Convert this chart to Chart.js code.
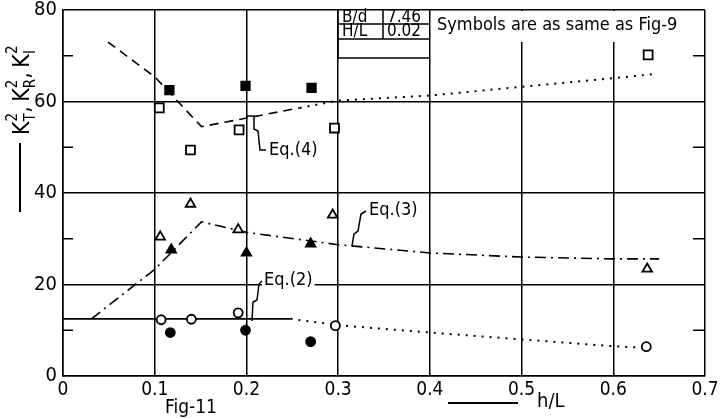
<!DOCTYPE html>
<html>
<head>
<meta charset="utf-8">
<script src="https://cdn.jsdelivr.net/npm/chart.js@4.4.1/dist/chart.umd.min.js"></script>
<style>
  html, body { margin: 0; padding: 0; background: #fff; }
  canvas { display: block; }
</style>
</head>
<body>
<canvas id="fig11" width="720" height="419"></canvas>
<script>
const xTicks = [0, 0.1, 0.2, 0.3, 0.4, 0.5, 0.6, 0.7];
const yLabelTicks = [0, 20, 40, 60, 80];
const yMinorTicks = [10, 30, 50, 70];

const openSquares = [[0.105, 58.6], [0.139, 49.4], [0.192, 53.8], [0.296, 54.2], [0.638, 70.2]];
const filledSquares = [[0.116, 62.5], [0.199, 63.4], [0.271, 63.0]];
const openTriangles = [[0.106, 30.4], [0.139, 37.6], [0.191, 32.0], [0.294, 35.2], [0.637, 23.4]];
const filledTriangles = [[0.118, 27.6], [0.200, 26.9], [0.270, 28.9]];
const openCircles = [[0.107, 12.3], [0.140, 12.4], [0.191, 13.8], [0.297, 11.0], [0.636, 6.4]];
const filledCircles = [[0.117, 9.5], [0.199, 10.0], [0.270, 7.5]];

// Eq.(4): dashed part then dotted part
const eq4Dashed = [[0.049, 73.0], [0.100, 65.4], [0.151, 54.5], [0.258, 58.6]];
const eq4Dotted = [[0.258, 58.6], [0.300, 60.2], [0.400, 61.3], [0.500, 63.2], [0.600, 65.1], [0.645, 66.0]];
// Eq.(3): dash-dot
const eq3Line = [[0.031, 12.5], [0.100, 23.3], [0.151, 33.7], [0.200, 31.4], [0.300, 28.7],
                 [0.400, 26.9], [0.500, 26.0], [0.600, 25.6], [0.650, 25.6]];
// Eq.(2): solid part then dotted part
const eq2Solid = [[0.000, 12.5], [0.248, 12.5]];
const eq2Dotted = [[0.248, 12.5], [0.300, 11.1], [0.400, 9.5], [0.500, 8.0], [0.600, 6.5], [0.630, 6.2]];

const FONT = '"DejaVu Sans Condensed", "Liberation Sans Narrow", "DejaVu Sans", sans-serif';

const pts = arr => arr.map(p => ({ x: p[0], y: p[1] }));

function markerSet(arr, style, filled, r) {
    return {
        data: pts(arr),
        showLine: false,
        pointStyle: style,
        pointRadius: r,
        pointBorderWidth: 1.8,
        pointBorderColor: '#000',
        pointBackgroundColor: filled ? '#000' : '#fff',
        order: 0
    };
}

function lineSet(arr, dash, width) {
    return {
        data: pts(arr),
        showLine: true,
        pointRadius: 0,
        borderColor: '#000',
        borderWidth: width,
        borderDash: dash,
        tension: 0,
        order: 1
    };
}

// texts, table, leaders, axis titles, minor ticks
const annotate = {
    id: 'annotate',
    beforeDatasetsDraw(chart) {
        const { ctx, chartArea: a, scales: { x, y } } = chart;
        ctx.save();
        ctx.strokeStyle = '#000';
        ctx.lineWidth = 1.5;

        // minor ticks, inward on both sides
        yMinorTicks.forEach(v => {
            const py = y.getPixelForValue(v);
            ctx.beginPath();
            ctx.moveTo(a.left, py); ctx.lineTo(a.left + 10, py);
            ctx.moveTo(a.right, py); ctx.lineTo(a.right - 12, py);
            ctx.stroke();
        });

        // knock out grid behind the note
        ctx.fillStyle = '#fff';
        ctx.fillRect(431, a.top + 1, a.right - 431 - 1, 31);

        // little parameter table
        ctx.beginPath();
        ctx.moveTo(338, a.top); ctx.lineTo(338, 58);
        ctx.lineTo(429, 58);
        ctx.moveTo(338, 24); ctx.lineTo(429, 24);
        ctx.moveTo(338, 39); ctx.lineTo(429, 39);
        ctx.moveTo(383, a.top); ctx.lineTo(383, 39);
        ctx.stroke();
        ctx.fillStyle = '#000';
        ctx.textBaseline = 'middle';
        ctx.textAlign = 'left';
        ctx.font = '17px ' + FONT;
        ctx.fillText('B/d', 342, 17.5, 38);
        ctx.fillText('H/L', 342, 32, 38);
        ctx.fillText('7.46', 387, 17.5, 38);
        ctx.fillText('0.02', 387, 32, 38);
        ctx.font = '18px ' + FONT;
        ctx.fillText('Symbols are as same as Fig-9', 437, 25, 246);

        // equation labels with white background
        const labels = [
            { t: 'Eq.(4)', px: 269, py: 150 },
            { t: 'Eq.(3)', px: 369, py: 210 },
            { t: 'Eq.(2)', px: 264, py: 280 }
        ];
        ctx.font = '18px ' + FONT;
        labels.forEach(l => {
            const w = ctx.measureText(l.t).width;
            ctx.fillStyle = '#fff';
            ctx.fillRect(l.px - 2, l.py - 10, w + 4, 20);
            ctx.fillStyle = '#000';
            ctx.fillText(l.t, l.px, l.py);
        });

        // leaders
        ctx.lineWidth = 1.5;
        const leader = list => {
            ctx.beginPath();
            ctx.moveTo(list[0][0], list[0][1]);
            list.slice(1).forEach(p => ctx.lineTo(p[0], p[1]));
            ctx.stroke();
        };
        leader([[246, 116], [254, 116], [254, 129], [258, 131], [260, 150], [266, 150]]);
        leader([[352, 246], [354, 234], [358, 231], [361, 214], [366, 211]]);
        leader([[252, 321], [253, 302], [257, 300], [259, 284], [262, 281]]);
        ctx.restore();
    },
    afterDraw(chart) {
        const { ctx } = chart;
        ctx.save();
        ctx.fillStyle = '#000';
        ctx.strokeStyle = '#000';

        // y title: K_T^2, K_R^2, K_I^2 rotated
        ctx.translate(29, 135);
        ctx.rotate(-Math.PI / 2);
        ctx.textBaseline = 'alphabetic';
        ctx.textAlign = 'left';
        let cx = 0;
        [['K', 'T'], ['K', 'R'], ['K', 'I']].forEach((p, i) => {
            ctx.font = '23px ' + FONT;
            ctx.fillText(p[0], cx, 0);
            const w = ctx.measureText(p[0]).width;
            ctx.font = '15px ' + FONT;
            ctx.fillText(p[1], cx + w, 6);
            ctx.fillText('2', cx + w, -12);
            cx += w + Math.max(ctx.measureText(p[1]).width, ctx.measureText('2').width);
            if (i < 2) {
                ctx.font = '23px ' + FONT;
                ctx.fillText(',', cx, 0);
                cx += ctx.measureText(', ').width - 2;
            }
        });
        ctx.setTransform(1, 0, 0, 1, 0, 0);

        // the long dash before titles
        ctx.lineWidth = 2;
        ctx.beginPath();
        ctx.moveTo(20, 143); ctx.lineTo(20, 212);
        ctx.moveTo(448, 403); ctx.lineTo(518, 403);
        ctx.stroke();

        ctx.textBaseline = 'middle';
        ctx.font = '20px ' + FONT;
        ctx.fillText('h/L', 537, 402);
        ctx.font = '19px ' + FONT;
        ctx.fillText('Fig-11', 165, 408);
        ctx.restore();
    }
};

new Chart(document.getElementById('fig11'), {
    type: 'scatter',
    data: {
        datasets: [
            markerSet(openSquares, 'rect', false, 6.3),
            markerSet(filledSquares, 'rect', true, 6),
            markerSet(openTriangles, 'triangle', false, 5.5),
            markerSet(filledTriangles, 'triangle', true, 5.5),
            markerSet(openCircles, 'circle', false, 4.5),
            markerSet(filledCircles, 'circle', true, 4.5),
            lineSet(eq4Dashed, [9, 6], 1.6),
            lineSet(eq4Dotted, [2, 6], 2),
            lineSet(eq3Line, [11, 5, 2, 5], 1.6),
            lineSet(eq2Solid, [], 1.8),
            lineSet(eq2Dotted, [2, 6], 2)
        ]
    },
    options: {
        responsive: false,
        animation: false,
        events: [],
        layout: { padding: { top: 10, right: 15, left: 0, bottom: 0 }, autoPadding: false },
        plugins: { legend: { display: false }, tooltip: { enabled: false } },
        scales: {
            x: {
                type: 'linear',
                min: 0,
                max: 0.7,
                afterFit: s => { s.height = 43; s.paddingLeft = 0; s.paddingRight = 0; },
                afterBuildTicks: s => { s.ticks = xTicks.map(v => ({ value: v })); },
                ticks: {
                    color: '#000',
                    padding: 3,
                    maxRotation: 0,
                    autoSkip: false,
                    font: { family: FONT, size: 19 },
                    callback: v => v === 0 ? '0' : v.toFixed(1)
                },
                grid: { color: '#000', lineWidth: 1.5, drawTicks: false },
                border: { color: '#000', width: 1.5 }
            },
            y: {
                min: 0,
                max: 80,
                afterFit: s => { s.width = 63; s.paddingTop = 0; s.paddingBottom = 0; },
                afterBuildTicks: s => { s.ticks = yLabelTicks.map(v => ({ value: v })); },
                ticks: {
                    color: '#000',
                    padding: 6,
                    font: { family: FONT, size: 20 },
                    callback: v => String(v)
                },
                grid: { color: '#000', lineWidth: 1.5, drawTicks: false },
                border: { color: '#000', width: 1.5 }
            }
        }
    },
    plugins: [annotate]
});
</script>
</body>
</html>
